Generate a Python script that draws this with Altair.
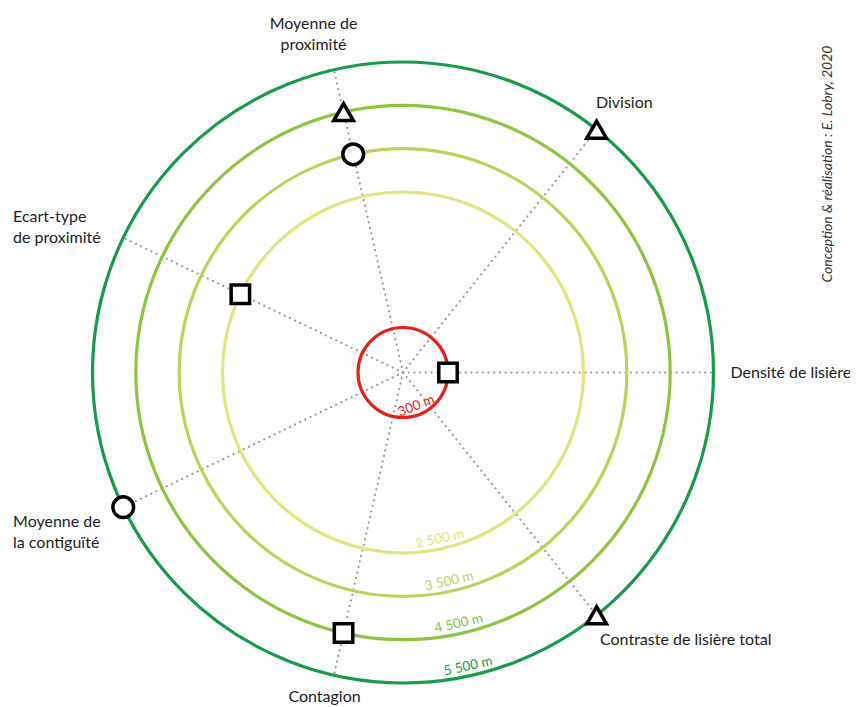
import altair as alt
import pandas as pd

# ---------------- data ----------------
AXES = [
    "Densité de lisière",
    "Division",
    "Moyenne de\nproximité",
    "Ecart-type\nde proximité",
    "Moyenne de\nla contiguïté",
    "Contagion",
    "Contraste de lisière total",
]
RING_DIST = [300, 2500, 3500, 4500, 5500]
RING_LABELS = ["300 m", "2\u202f500 m", "3\u202f500 m", "4\u202f500 m", "5\u202f500 m"]

MARKER_AXIS = [0, 1, 2, 2, 3, 4, 5, 6]
MARKER_DIST = [300, 5500, 4500, 3500, 2500, 5500, 4500, 5500]
MARKER_GROUP = ["carré", "triangle", "triangle", "cercle", "carré", "cercle", "carré", "triangle"]

CREDIT = "Conception & réalisation : E. Lobry, 2020"

# ---------------- styles ----------------
N = len(AXES)
RING_COLORS = ["#e3231b", "#e2e47e", "#b9d45b", "#8cc541", "#189c49"]
RING_TEXT_COLORS = ["#e3231b", "#d8d645", "#b3cf4f", "#7dbd36", "#15964a"]
RADIUS_DOMAIN = [0, 300, 2500, 5500]
RADIUS_RANGE = [0, 45, 180.5, 310.5]
GROUPS = ["carré", "triangle", "cercle"]
SHAPES = ["square", "triangle-up", "circle"]
SHAPE_SIZES = [340, 430, 330]
LABEL_ALIGN = ["left", "left", "center", "left", "left", "center", "left"]
LABEL_OFFSET = [(17, 0), (-0.6, -27), (-20.4, -45.8), (-110.2, -20.8),
                (-110.2, 14.3), (-9.4, 22), (3.4, 25)]
RING_LABEL_TILT = [21.5, 12.5, 12.5, 12.5, 12.5]
RING_LABEL_INSET = [9, 10, 10, 10, 9.5]
FONT = "Lato"
W, H = 842, 698
CX, CY = 395, 364.5

xs = alt.Scale(domain=[-CX, W - CX], nice=False, zero=False)
ys = alt.Scale(domain=[-(H - CY), CY], nice=False, zero=False)


def rexpr(f):
    d, r = RADIUS_DOMAIN, RADIUS_RANGE
    segs = [f"({r[i]} + (({f}) - {d[i]}) * {(r[i + 1] - r[i]) / (d[i + 1] - d[i])})"
            for i in range(len(d) - 1)]
    expr = segs[-1]
    for i in range(len(d) - 3, -1, -1):
        expr = f"(({f}) <= {d[i + 1]} ? {segs[i]} : {expr})"
    return expr


ANG = f"datum.axis * 2 * PI / {N}"

# spokes
spoke_df = pd.DataFrame({"axis": list(range(N))})
spokes = alt.Chart(spoke_df).transform_calculate(
    a=ANG, r=rexpr(str(max(RING_DIST))), o="0"
).transform_calculate(
    ex="datum.r * cos(datum.a)", ey="datum.r * sin(datum.a)"
).mark_rule(color="#979797", strokeWidth=2.1, strokeDash=[0.1, 5.6], strokeCap="round").encode(
    x=alt.X("o:Q", scale=xs, axis=None),
    y=alt.Y("o:Q", scale=ys, axis=None),
    x2="ex:Q", y2="ey:Q",
)

# rings (circle symbols whose diameter is twice the scaled radius)
ring_df = pd.DataFrame({"dist": RING_DIST, "label": RING_LABELS,
                        "tilt": RING_LABEL_TILT, "inset": RING_LABEL_INSET})
rings = alt.Chart(ring_df).transform_calculate(
    o="0", r=rexpr("datum.dist")
).transform_calculate(
    s="pow(2 * datum.r, 2)"
).mark_point(shape="circle", filled=False, strokeWidth=3.2, opacity=1).encode(
    x=alt.X("o:Q", scale=xs, axis=None),
    y=alt.Y("o:Q", scale=ys, axis=None),
    size=alt.Size("s:Q", scale=None),
    color=alt.Color("label:N", scale=alt.Scale(domain=RING_LABELS, range=RING_COLORS), legend=None),
)

ring_labels = alt.Chart(ring_df).transform_calculate(
    r=rexpr("datum.dist") + " - datum.inset",
    a="(-90 + datum.tilt) * PI / 180",
    rot="360 - datum.tilt",
).transform_calculate(
    lx="datum.r * cos(datum.a)", ly="datum.r * sin(datum.a)"
).mark_text(font=FONT, fontSize=13.5, baseline="middle", align="center").encode(
    x=alt.X("lx:Q", scale=xs, axis=None),
    y=alt.Y("ly:Q", scale=ys, axis=None),
    text="label:N",
    angle=alt.Angle("rot:Q", scale=None),
    color=alt.Color("label:N", scale=alt.Scale(domain=RING_LABELS, range=RING_TEXT_COLORS), legend=None),
)

# markers
marker_df = pd.DataFrame({"axis": MARKER_AXIS, "dist": MARKER_DIST, "group": MARKER_GROUP})
markers = alt.Chart(marker_df).transform_calculate(
    a=ANG, r=rexpr("datum.dist")
).transform_calculate(
    mx="datum.r * cos(datum.a)", my="datum.r * sin(datum.a)"
).mark_point(filled=True, fill="white", stroke="black", strokeWidth=3.5, opacity=1).encode(
    x=alt.X("mx:Q", scale=xs, axis=None),
    y=alt.Y("my:Q", scale=ys, axis=None),
    shape=alt.Shape("group:N", scale=alt.Scale(domain=GROUPS, range=SHAPES), legend=None),
    size=alt.Size("group:N", scale=alt.Scale(domain=GROUPS, range=SHAPE_SIZES), legend=None),
)

# axis labels
lab_df = pd.DataFrame({
    "axis": list(range(N)),
    "label": AXES,
    "align": LABEL_ALIGN,
    "ox": [o[0] for o in LABEL_OFFSET],
    "oy": [o[1] for o in LABEL_OFFSET],
})


def label_layer(align):
    return alt.Chart(lab_df).transform_filter(
        f"datum.align == '{align}'"
    ).transform_calculate(
        a=ANG, r=rexpr(str(max(RING_DIST)))
    ).transform_calculate(
        lx="datum.r * cos(datum.a) + datum.ox", ly="datum.r * sin(datum.a) - datum.oy"
    ).mark_text(font=FONT, fontSize=16, align=align, baseline="middle", lineBreak="\n",
                lineHeight=21, color="#1e1e1e").encode(
        x=alt.X("lx:Q", scale=xs, axis=None),
        y=alt.Y("ly:Q", scale=ys, axis=None),
        text="label:N",
    )


credit = alt.Chart(pd.DataFrame({"t": [CREDIT]})).mark_text(
    font=FONT, fontSize=14, fontStyle="italic", angle=270, align="center",
    baseline="middle", color="#333333"
).encode(x=alt.value(820), y=alt.value(156), text="t:N")

chart = alt.layer(
    spokes, rings, ring_labels, markers, label_layer("left"), label_layer("center"), credit
).properties(
    width=W, height=H, padding=0, autosize=alt.AutoSizeParams(type="none"), background="white"
).configure_view(stroke=None)

chart.save("out.html", embed_options={"renderer": "svg", "actions": False})
